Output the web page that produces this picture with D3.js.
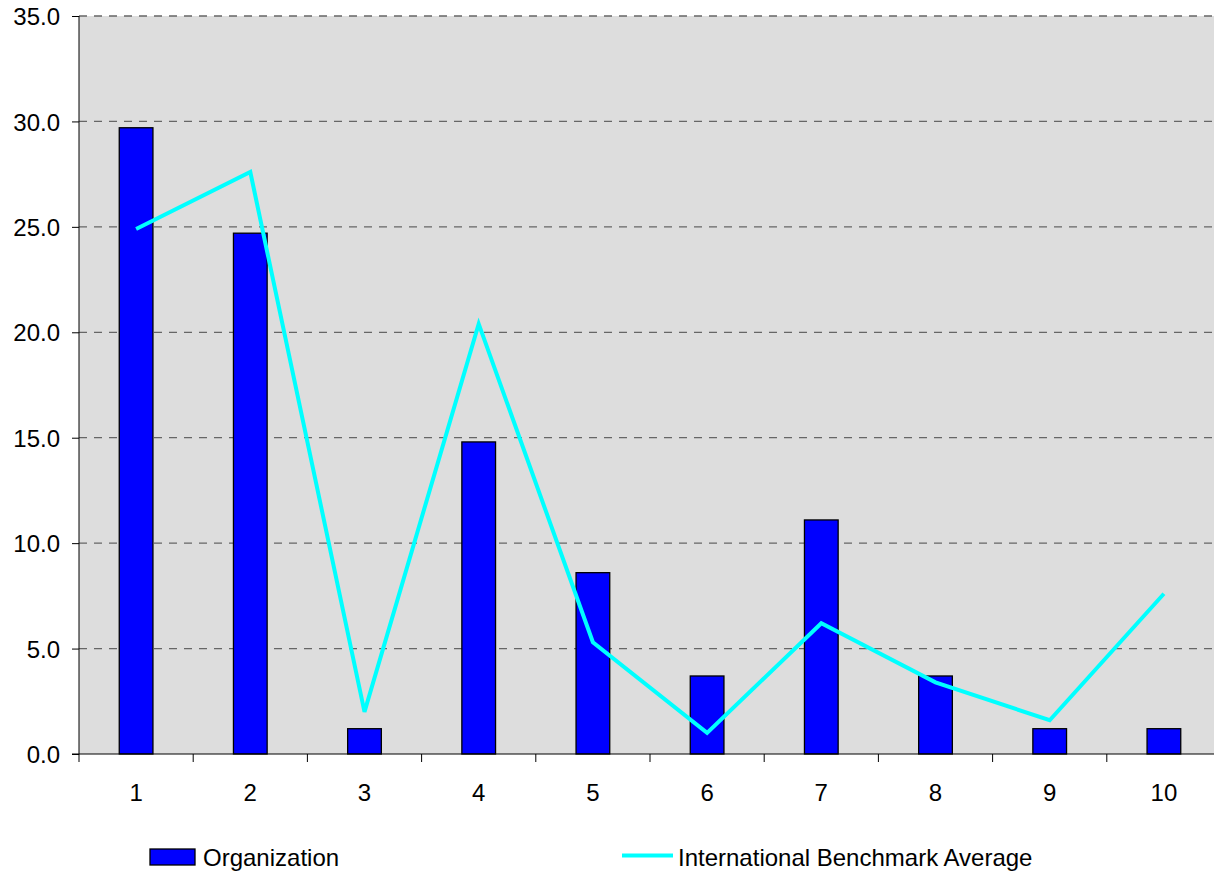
<!DOCTYPE html>
<html><head><meta charset="utf-8">
<script src="https://cdn.jsdelivr.net/npm/d3@7"></script>
<style>body{margin:0;background:#fff;}svg{display:block;}text{font-family:"Liberation Sans",Arial,sans-serif;fill:#000;}</style>
</head><body>
<svg id="c" width="1214" height="874"></svg>
<script>
const categories = ["1","2","3","4","5","6","7","8","9","10"];
const organization = [29.7, 24.7, 1.2, 14.8, 8.6, 3.7, 11.1, 3.7, 1.2, 1.2];
const benchmark = [24.9, 27.6, 2.0, 20.4, 5.3, 1.0, 6.2, 3.4, 1.6, 7.6];
const yTicks = [0, 5, 10, 15, 20, 25, 30, 35];

const svg = d3.select("#c");
const L = 79, T = 16, B = 754, R = 79 + 114.2 * 10;
const x = d3.scaleBand().domain(categories).range([L, R]).paddingInner(0).paddingOuter(0);
const y = d3.scaleLinear().domain([0, 35]).range([B, T]);

svg.append("rect").attr("x", L).attr("y", T).attr("width", R - L).attr("height", B - T).attr("fill", "#dddddd");

// gridlines
svg.append("g").selectAll("line").data(yTicks.filter(d => d > 0)).join("line")
  .attr("x1", L).attr("x2", R).attr("y1", d => y(d)).attr("y2", d => y(d))
  .attr("stroke", "#666").attr("stroke-width", 1.3).attr("stroke-dasharray", "8,7");

// bars
const bw = x.bandwidth() * 0.295;
svg.append("g").selectAll("rect").data(organization).join("rect")
  .attr("x", (d, i) => x(categories[i]) + x.bandwidth() / 2 - bw / 2)
  .attr("y", d => y(d)).attr("width", bw).attr("height", d => B - y(d))
  .attr("fill", "#0000ff").attr("stroke", "#000").attr("stroke-width", 1.3);

// line
const line = d3.line().x((d, i) => x(categories[i]) + x.bandwidth() / 2).y(d => y(d));
svg.append("path").datum(benchmark).attr("d", line).attr("fill", "none")
  .attr("stroke", "#00ffff").attr("stroke-width", 4).attr("stroke-linejoin", "miter");

// y axis
const yAxis = d3.axisLeft(y).tickValues(yTicks).tickFormat(d3.format(".1f")).tickSize(7).tickPadding(12);
const gy = svg.append("g").attr("transform", `translate(${L},0)`).call(yAxis);
gy.select(".domain").attr("stroke", "#000").attr("d", `M-0,${B}V${T}`);
gy.selectAll(".tick line").attr("stroke", "#000");
gy.selectAll(".tick text").attr("font-size", 24).attr("dy", "0.36em").attr("font-family", "Liberation Sans, Arial, sans-serif");

// x axis
const gx = svg.append("g").attr("transform", `translate(0,${B})`);
gx.append("line").attr("x1", L - 7).attr("x2", R).attr("y1", 0).attr("y2", 0).attr("stroke", "#000");
gx.selectAll(".xt").data(categories).join("line").attr("class", "xt")
  .attr("x1", d => x(d)).attr("x2", d => x(d)).attr("y1", 0).attr("y2", 8).attr("stroke", "#000");
gx.selectAll(".xl").data(categories).join("text").attr("class", "xl")
  .attr("x", d => x(d) + x.bandwidth() / 2).attr("y", 47).attr("text-anchor", "middle")
  .attr("font-size", 24).text(d => d);

// legend
const lg = svg.append("g");
lg.append("rect").attr("x", 150).attr("y", 849).attr("width", 45).attr("height", 16)
  .attr("fill", "#0000ff").attr("stroke", "#000").attr("stroke-width", 1.3);
lg.append("text").attr("x", 203).attr("y", 866).attr("font-size", 24).text("Organization");
lg.append("line").attr("x1", 622).attr("x2", 673).attr("y1", 855.5).attr("y2", 855.5)
  .attr("stroke", "#00ffff").attr("stroke-width", 4);
lg.append("text").attr("x", 678).attr("y", 866).attr("font-size", 24).text("International Benchmark Average");
</script>
</body></html>
